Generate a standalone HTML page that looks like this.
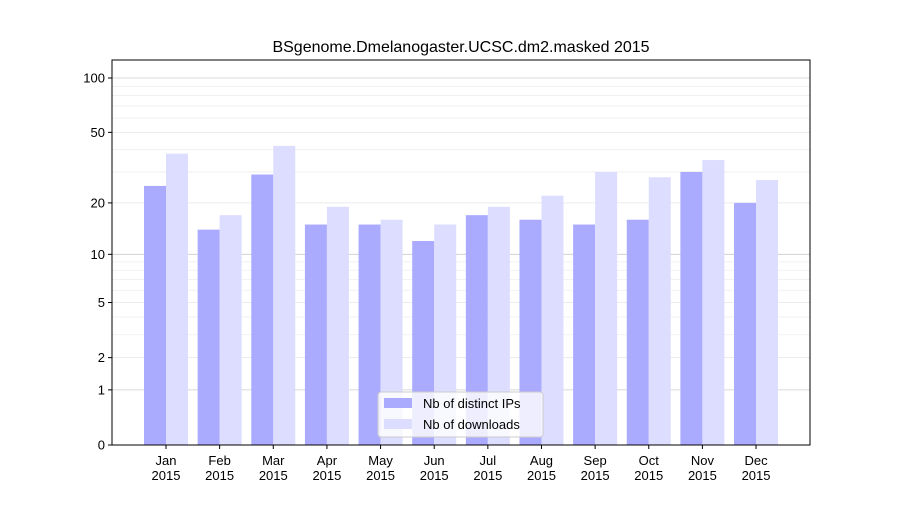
<!DOCTYPE html>
<html><head><meta charset="utf-8"><style>body{margin:0;background:#fff}svg{font-family:"Liberation Sans","DejaVu Sans",sans-serif}</style></head>
<body>
<svg id="c" width="900" height="500"></svg>
<script>
const months=["Jan","Feb","Mar","Apr","May","Jun","Jul","Aug","Sep","Oct","Nov","Dec"];
const ips=[25,14,29,15,15,12,17,16,15,16,30,20];
const downloads=[38,17,42,19,16,15,19,22,30,28,35,27];
const majorTicks=[0,1,2,5,10,20,50,100];
const minorTicks=[3,4,6,7,8,9,30,40,60,70,80,90];
const NS="http://www.w3.org/2000/svg";
const svg=document.getElementById('c');
const L=112,R=810,T=60,B=445;
const y=v=>B-183.1*Math.log10(v+1);
const step=53.64, x0=166;
const xc=i=>x0+i*step;
function mk(t,a,p){const e=document.createElementNS(NS,t);for(const k in a)e.setAttribute(k,a[k]);(p||svg).appendChild(e);return e;}
const g=mk('g',{});


minorTicks.forEach(v=>{mk('line',{x1:L,x2:R,y1:y(v),y2:y(v),stroke:'#eee','stroke-width':0.8},g);});
majorTicks.forEach(v=>{const strong=(v===1||v===10||v===100);mk('line',{x1:L,x2:R,y1:y(v),y2:y(v),stroke:strong?'#ccc':'#e6e6e6','stroke-width':0.8},g);});
months.forEach((m,i)=>{
 const b1=mk('rect',{x:xc(i)-22,y:y(ips[i]),width:22,height:B-y(ips[i]),fill:'#aaaaff'});
 
 
 const b2=mk('rect',{x:xc(i),y:y(downloads[i]),width:22,height:B-y(downloads[i]),fill:'#ddddff'});
 
 
 mk('line',{x1:xc(i),x2:xc(i),y1:B,y2:B+4,stroke:'#000'});
 const t=mk('text',{x:xc(i),y:B+20,'text-anchor':'middle','font-size':13});
 t.innerHTML='<tspan x="'+xc(i)+'">'+m+'</tspan><tspan x="'+xc(i)+'" dy="15">2015</tspan>';
 
 
});
majorTicks.forEach(v=>{
 mk('line',{x1:L-4,x2:L,y1:y(v),y2:y(v),stroke:'#000'});
 const t=mk('text',{x:L-7,y:y(v)+4.5,'text-anchor':'end','font-size':13});t.textContent=v;
 
 
});
const ax=mk('rect',{x:L,y:T,width:R-L,height:B-T,fill:'none',stroke:'#000','stroke-width':1});


const ti=mk('text',{x:461,y:52,'text-anchor':'middle','font-size':16});ti.textContent='BSgenome.Dmelanogaster.UCSC.dm2.masked 2015';


const lg=mk('g',{});


mk('rect',{x:378,y:392,width:165,height:45,fill:'#fff','fill-opacity':0.8,stroke:'#ccc',rx:3},lg);
mk('rect',{x:384,y:398,width:28,height:10,fill:'#aaaaff'},lg);
mk('rect',{x:384,y:419,width:28,height:10,fill:'#ddddff'},lg);
const l1=mk('text',{x:423,y:408,'font-size':13},lg);l1.textContent='Nb of distinct IPs';


const l2=mk('text',{x:423,y:429,'font-size':13},lg);l2.textContent='Nb of downloads';


</script>
</body></html>
